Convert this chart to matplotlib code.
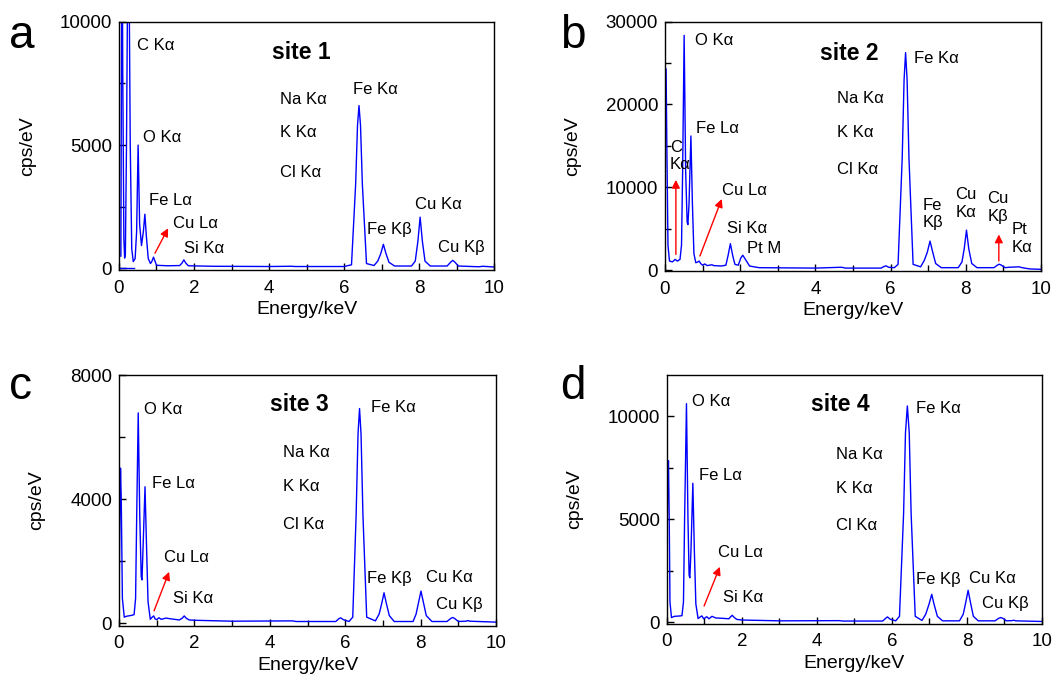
import matplotlib
matplotlib.use("Agg")
import matplotlib.pyplot as plt
from matplotlib.ticker import MultipleLocator

plt.rcParams['font.family'] = ['Liberation Sans', 'DejaVu Sans']

# spectra: energy (keV) and counts (cps/eV)
energy_a = [0.05, 0.065, 0.08, 0.10, 0.13, 0.15, 0.17, 0.20, 0.25, 0.30, 0.34, 0.38, 0.43, 0.47,
            0.51, 0.55, 0.60, 0.65, 0.69, 0.73, 0.78, 0.84, 0.88, 0.92, 0.96, 1.0, 1.3, 1.62,
            1.68, 1.73, 1.78, 1.85, 2.5, 4.0, 4.6, 4.7, 6.0, 6.2, 6.31, 6.36, 6.40, 6.44, 6.49,
            6.6, 6.8, 6.9, 6.98, 7.05, 7.12, 7.2, 7.35, 7.8, 7.9, 7.97, 8.03, 8.09, 8.16, 8.3,
            8.75, 8.84, 8.9, 8.96, 9.05, 9.6, 9.7, 10.0]
cps_a = [500, 8000, 16000, 8000, 1200, 420, 600, 5000, 16000, 5000, 800, 280, 400, 1500,
         5000, 1800, 930, 1500, 2200, 1300, 400, 200, 300, 460, 300, 130, 110, 120,
         220, 350, 220, 110, 90, 80, 90, 80, 80, 150, 3400, 5800, 6600, 5800, 3400,
         200, 120, 300, 600, 980, 600, 250, 100, 100, 300, 1100, 2080, 1100, 300, 100,
         100, 250, 330, 250, 100, 70, 90, 60]
zero_energy_a = [0.0, 0.4]
zero_cps_a = [0, 0]

energy_b = [0.0, 0.03, 0.05, 0.08, 0.12, 0.2, 0.27, 0.33, 0.40, 0.44, 0.47, 0.51, 0.55, 0.59,
            0.61, 0.64, 0.69, 0.73, 0.77, 0.82, 0.88, 0.91, 0.95, 1.0, 1.06, 1.12, 1.25, 1.3,
            1.5, 1.62, 1.68, 1.74, 1.80, 1.86, 1.95, 2.02, 2.07, 2.14, 2.25, 2.5, 4.0, 4.7,
            4.8, 5.75, 5.83, 5.88, 5.95, 6.1, 6.2, 6.31, 6.36, 6.40, 6.44, 6.49, 6.6, 6.8,
            6.9, 6.98, 7.05, 7.12, 7.2, 7.35, 7.8, 7.9, 7.96, 8.02, 8.08, 8.16, 8.3, 8.75,
            8.84, 8.89, 8.95, 9.05, 9.15, 9.3, 9.42, 9.5, 9.7, 10.0]
cps_b = [24300, 24300, 15000, 3000, 1100, 1000, 1300, 1100, 1300, 3000, 12000, 28350, 12000, 5800,
         5500, 8000, 16200, 8000, 2000, 900, 1000, 1100, 800, 600, 750, 550, 650, 550,
         500, 600, 1800, 3200, 1800, 700, 600, 1500, 1800, 1300, 500, 300, 250, 350,
         250, 250, 450, 520, 350, 300, 700, 13500, 23000, 26260, 23000, 13500, 700, 400,
         1200, 2200, 3510, 2200, 800, 300, 300, 1000, 2600, 4830, 2600, 800, 300, 300,
         600, 720, 600, 300, 350, 380, 400, 300, 150, 100]

energy_c = [0.0, 0.02, 0.04, 0.06, 0.09, 0.14, 0.2, 0.3, 0.4, 0.44, 0.47, 0.51, 0.55, 0.59,
            0.61, 0.64, 0.69, 0.73, 0.77, 0.83, 0.88, 0.92, 0.96, 1.0, 1.06, 1.12, 1.25, 1.35,
            1.6, 1.68, 1.73, 1.78, 1.86, 2.0, 3.0, 4.6, 4.7, 5.75, 5.83, 5.88, 5.95, 6.1,
            6.2, 6.29, 6.34, 6.38, 6.42, 6.47, 6.57, 6.8, 6.9, 6.97, 7.03, 7.09, 7.17, 7.3,
            7.8, 7.88, 7.95, 8.01, 8.07, 8.15, 8.3, 8.7, 8.8, 8.85, 8.9, 9.0, 9.2, 9.25,
            9.3, 10.0]
cps_c = [600, 3000, 5000, 4000, 800, 200, 230, 250, 280, 800, 3500, 6780, 3500, 1500,
         1400, 2500, 4400, 2500, 700, 130, 200, 240, 140, 120, 180, 130, 170, 150,
         110, 170, 240, 170, 110, 100, 70, 80, 60, 60, 150, 180, 120, 60,
         200, 3500, 6100, 6920, 6100, 3500, 200, 80, 300, 650, 985, 650, 250, 60,
         60, 300, 700, 1040, 700, 250, 60, 60, 160, 190, 160, 60, 70, 90,
         70, 40]

energy_d = [0.0, 0.02, 0.04, 0.06, 0.08, 0.12, 0.2, 0.3, 0.4, 0.44, 0.47, 0.52, 0.56, 0.59,
            0.61, 0.64, 0.69, 0.73, 0.77, 0.83, 0.88, 0.93, 0.98, 1.06, 1.12, 1.2, 1.3, 1.5,
            1.65, 1.69, 1.74, 1.79, 1.86, 2.0, 3.0, 4.6, 4.7, 5.75, 5.83, 5.88, 5.95, 6.1,
            6.2, 6.31, 6.36, 6.41, 6.46, 6.51, 6.62, 6.8, 6.9, 6.99, 7.06, 7.12, 7.21, 7.35,
            7.8, 7.9, 7.97, 8.03, 8.09, 8.17, 8.3, 8.75, 8.84, 8.9, 8.96, 9.05, 9.2, 9.25,
            9.3, 10.0]
cps_d = [3100, 7000, 7840, 5000, 1000, 240, 300, 310, 330, 1000, 5000, 10610, 5000, 2300,
         2170, 3500, 6750, 3500, 900, 190, 260, 320, 180, 280, 180, 300, 220, 200,
         180, 260, 350, 250, 150, 120, 80, 90, 70, 70, 200, 270, 160, 80,
         300, 5300, 9200, 10500, 9200, 5300, 300, 100, 400, 900, 1365, 900, 300, 80,
         80, 400, 1000, 1560, 1000, 300, 80, 80, 200, 240, 200, 80, 90, 110,
         80, 50]

# peak labels: (text, energy, cps)
labels_a = [("C Kα", 0.47, 9040), ("O Kα", 0.65, 5290), ("Fe Lα", 0.80, 2740),
            ("Cu Lα", 1.43, 1840), ("Si Kα", 1.74, 820), ("Na Kα", 4.29, 6850),
            ("K Kα", 4.29, 5500), ("Cl Kα", 4.29, 3910), ("Fe Kα", 6.25, 7260),
            ("Fe Kβ", 6.60, 1565), ("Cu Kα", 7.89, 2610), ("Cu Kβ", 8.51, 860)]
labels_b = [("O Kα", 0.80, 27750), ("Fe Lα", 0.82, 17090), ("C\nKα", 0.13, 13800),
            ("Cu Lα", 1.51, 9620), ("Si Kα", 1.64, 5030), ("Pt M", 2.17, 2630),
            ("Na Kα", 4.58, 20680), ("K Kα", 4.58, 16610), ("Cl Kα", 4.58, 12100),
            ("Fe Kα", 6.62, 25600), ("Fe\nKβ", 6.84, 6770), ("Cu\nKα", 7.73, 8050),
            ("Cu\nKβ", 8.57, 7570), ("Pt\nKα", 9.22, 3800)]
labels_c = [("O Kα", 0.67, 6890), ("Fe Lα", 0.87, 4510), ("Cu Lα", 1.19, 2110),
            ("Si Kα", 1.44, 800), ("Na Kα", 4.36, 5510), ("K Kα", 4.36, 4420),
            ("Cl Kα", 4.36, 3170), ("Fe Kα", 6.68, 6960), ("Fe Kβ", 6.57, 1430),
            ("Cu Kα", 8.14, 1480), ("Cu Kβ", 8.40, 610)]
labels_d = [("O Kα", 0.66, 10720), ("Fe Lα", 0.86, 7120), ("Cu Lα", 1.35, 3380),
            ("Si Kα", 1.50, 1210), ("Na Kα", 4.51, 8150), ("K Kα", 4.51, 6510),
            ("Cl Kα", 4.51, 4690), ("Fe Kα", 6.64, 10370), ("Fe Kβ", 6.63, 2090),
            ("Cu Kα", 8.06, 2120), ("Cu Kβ", 8.39, 920)]

# red arrows: (tail energy, tail cps, head energy, head cps)
arrows_a = [(0.96, 620, 1.31, 1630)]
arrows_b = [(0.29, 1900, 0.29, 10900), (0.93, 1710, 1.51, 8590), (8.88, 1110, 8.88, 4310)]
arrows_c = [(0.93, 405, 1.33, 1660)]
arrows_d = [(0.99, 800, 1.41, 2700)]

sites = ["site 1", "site 2", "site 3", "site 4"]
site_pos = [(4.07, 8750), (4.12, 26150), (4.0, 7050), (3.83, 10560)]
letters = ["a", "b", "c", "d"]


fig = plt.figure(figsize=(10.54, 6.79), dpi=100)

boxes = [[0.1129, 0.6024, 0.3558, 0.3656], [0.6309, 0.6009, 0.3567, 0.3672],
         [0.1129, 0.0785, 0.3577, 0.3692], [0.6328, 0.0817, 0.3558, 0.3660]]
ylims = [(-60, 10000), (-100, 30000), (-75, 8000), (-50, 12000)]
ymajor = [5000, 10000, 4000, 5000]
ylabel_x = [-0.222, -0.222, -0.196, -0.223]
letter_xy = [(0.009, 1 - 48 / 679), (0.531, 1 - 48 / 679),
             (0.009, 1 - 399 / 679), (0.531, 1 - 399 / 679)]

spectra = [(energy_a, cps_a), (energy_b, cps_b), (energy_c, cps_c), (energy_d, cps_d)]
all_labels = [labels_a, labels_b, labels_c, labels_d]
all_arrows = [arrows_a, arrows_b, arrows_c, arrows_d]

for i in range(4):
    ax = fig.add_axes(boxes[i])
    ax.plot(spectra[i][0], spectra[i][1], color='#0000ff', lw=1.0)
    if i == 0:
        ax.plot(zero_energy_a, zero_cps_a, color='#0000ff', lw=1.0)
    ax.set_xlim(0, 10)
    ax.set_ylim(*ylims[i])
    ax.xaxis.set_major_locator(MultipleLocator(2))
    ax.xaxis.set_minor_locator(MultipleLocator(1))
    ax.yaxis.set_major_locator(MultipleLocator(ymajor[i]))
    ax.yaxis.set_minor_locator(MultipleLocator(ymajor[i] / 2))
    ax.tick_params(which='both', direction='in', top=False, right=False, labelsize=13.5,
                   width=1.0)
    ax.tick_params(which='major', length=5)
    ax.tick_params(axis='x', which='major', pad=7)
    ax.tick_params(axis='y', which='major', pad=5)
    ax.tick_params(which='minor', length=4)
    for sp in ax.spines.values():
        sp.set_linewidth(1.0)
    ax.set_xlabel("Energy/keV", fontsize=14)
    ax.set_ylabel("cps/eV", fontsize=14)
    ax.xaxis.set_label_coords(0.5, -0.125)
    ax.yaxis.set_label_coords(ylabel_x[i], 0.5)

    for txt, x, y in all_labels[i]:
        ax.text(x, y, txt, fontsize=12, ha='left', va='center', linespacing=1.2)
    for x0, y0, x1, y1 in all_arrows[i]:
        ax.annotate('', xy=(x1, y1), xytext=(x0, y0),
                    arrowprops=dict(arrowstyle='-|>', color='red', lw=1.0,
                                    mutation_scale=12, shrinkA=0, shrinkB=0))
    ax.text(site_pos[i][0], site_pos[i][1], sites[i], fontsize=16.5, fontweight='bold',
            ha='left', va='center')
    fig.text(letter_xy[i][0], letter_xy[i][1], letters[i], fontsize=33, va='baseline')

plt.savefig("out.png", dpi=100)
